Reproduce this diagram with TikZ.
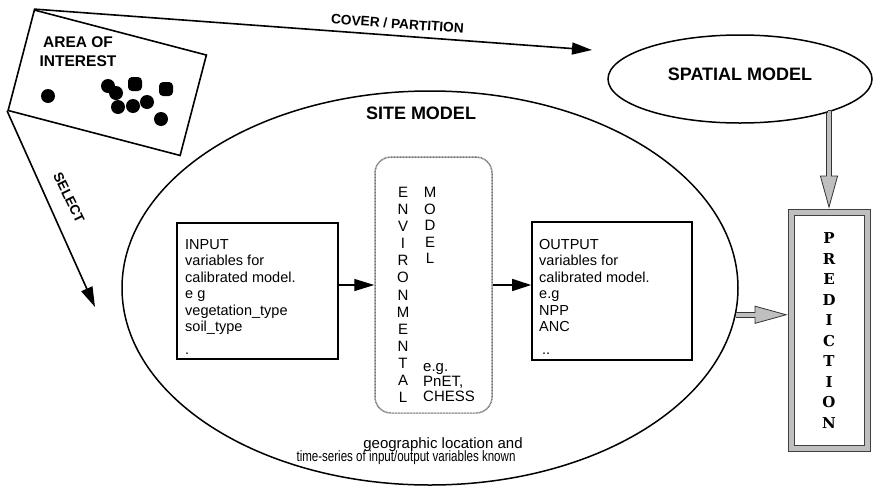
\documentclass[tikz,border=0pt]{standalone}
\usepackage{fontspec}
\usepackage{graphicx}
\setmainfont{Liberation Sans}
\newfontfamily\predfont{DejaVu Serif}
\usetikzlibrary{arrows.meta,shapes.geometric,calc}

\begin{document}
\begin{tikzpicture}[x=1pt,y=-1pt,
  line/.style={line width=1.6pt},
  blacktip/.style={-{Triangle[length=20pt,width=12pt]}},
  greyarrow/.style={draw=black!80, line width=5.6pt,
    -{Triangle[length=33pt,width=18pt,line width=0.8pt,fill=gray!50]},
    postaction={draw=gray!50, line width=3.8pt, -, shorten >=30pt}},
  heading/.style={font=\fontsize{18}{21}\selectfont\bfseries, inner sep=0pt},
  smallhead/.style={font=\fontsize{13.7}{16}\selectfont\bfseries, inner sep=0pt},
  body/.style={font=\fontsize{14.5}{16.5}\selectfont, align=left, inner sep=0pt},
  envtxt/.style={font=\fontsize{15}{17.08}\selectfont, align=center, inner sep=0pt},
  varbox/.style={draw, line width=1.6pt, minimum width=161pt, minimum height=136pt},
  modelellipse/.style={ellipse, draw, line width=1.5pt, inner sep=0pt}
]
\useasboundingbox (0,0) rectangle (873,496);

% ---- area of interest map sheet ----
\node[draw, line width=1.6pt, rotate=-14.66, minimum width=177.8pt,
      minimum height=103.8pt, inner sep=0pt] (aoi) at (107.25,82.75) {};
\node[font=\fontsize{15.5}{19}\selectfont\bfseries, align=center, inner sep=0pt]
  (aoitext) at (78,52) {AREA OF\\INTEREST};
% sample sites
\foreach \p in {(48,96),(108,86),(116,93),(118,107),(133,106),(147,102),(161,119)}
  \fill \p circle (7pt);
\fill[rounded corners=4pt] (128,77) rectangle (142,91);
\fill[rounded corners=4pt] (159,82) rectangle (173,96);

% ---- spatial model ----
\node[modelellipse, minimum width=264pt, minimum height=88pt] (spatial) at (740,79) {};
\node[heading] (spatialtext) at (740,74) {SPATIAL MODEL};

% ---- site model ----
\node[modelellipse, minimum width=616pt, minimum height=394pt] (site) at (430,288) {};
\node[heading] (sitetext) at (421,113) {SITE MODEL};

% input variables
\node[varbox] (input) at (257.5,291) {};
\node[body, anchor=north west] (inputtxt) at (185,239)
  {INPUT\\variables for\\calibrated model.\\e g\\vegetation\_type\\soil\_type\\[6pt].};

% output variables
\node[varbox, minimum width=160pt, minimum height=138pt] (output) at (612,291) {};
\node[body, anchor=north west] (outputtxt) at (539,239)
  {OUTPUT\\variables for\\calibrated model.\\e.g\\NPP\\ANC\\[6pt]\hspace*{3pt}..};

% environmental model
\node[draw=black!55, line width=1.5pt, dash pattern=on 0.9pt off 0.6pt,
      rounded corners=16pt, minimum width=117pt, minimum height=256pt] (env) at (433.5,285) {};
\node[envtxt, anchor=north] (envcol) at (403,187) {E\\N\\V\\I\\R\\O\\N\\M\\E\\N\\T\\A\\L};
\node[envtxt, font=\fontsize{15}{16.5}\selectfont, anchor=north] (modcol) at (430,187) {M\\O\\D\\E\\L};
\node[body, font=\fontsize{15}{15}\selectfont, anchor=south west] (examples) at (423,402)
  {e.g.\\PnET,\\CHESS};

% notes under the site model
\node[font=\fontsize{15}{17}\selectfont, inner sep=0pt] (geo) at (443,445) {geographic location and};
\node[font=\fontsize{15}{17}\selectfont, inner sep=0pt] (series) at (406,458)
  {\scalebox{0.77}[1]{time-series of input/output variables known}};

% ---- prediction ----
\node[draw=black!75, fill=gray!50, line width=0.7pt, minimum width=82pt,
      minimum height=242pt, inner sep=0pt] (pred) at (829,330) {};
\draw[draw=black!75, fill=white, line width=0.7pt]
  ($(pred.north west)+(6.5,6.5)$) rectangle ($(pred.south east)+(-6.5,-6.5)$);
\node[font=\predfont\fontsize{15}{20.56}\selectfont\bfseries, align=center, inner sep=0pt]
  (predtext) at (829,330.5) {P\\R\\E\\D\\I\\C\\T\\I\\O\\N};

% ---- connectors ----
\coordinate (coverend) at (592,50);
\coordinate (selectend) at (95,307);
\draw[line, blacktip] (aoi.north west) -- (coverend)
  node[smallhead, pos=0.65, rotate=-4.1, yshift=12pt] (covertext) {COVER / PARTITION};
\draw[line, blacktip] (aoi.south west) -- (selectend);
\node[smallhead, rotate=-64] (selecttext) at (69,198) {SELECT};

\draw[line width=1.4pt, blacktip] (input.east |- env.west) -- (env.west);
\draw[line width=1.4pt, -{Triangle[length=19pt,width=12pt]}] (env.east) -- (output.west |- env.east);

\draw[greyarrow] (spatial.-21) -- (spatial.-21 -| pred.north) -- (pred.north);
\draw[greyarrow] (site.-5.6) -- (pred.west |- site.-5.6);
\end{tikzpicture}
\end{document}
